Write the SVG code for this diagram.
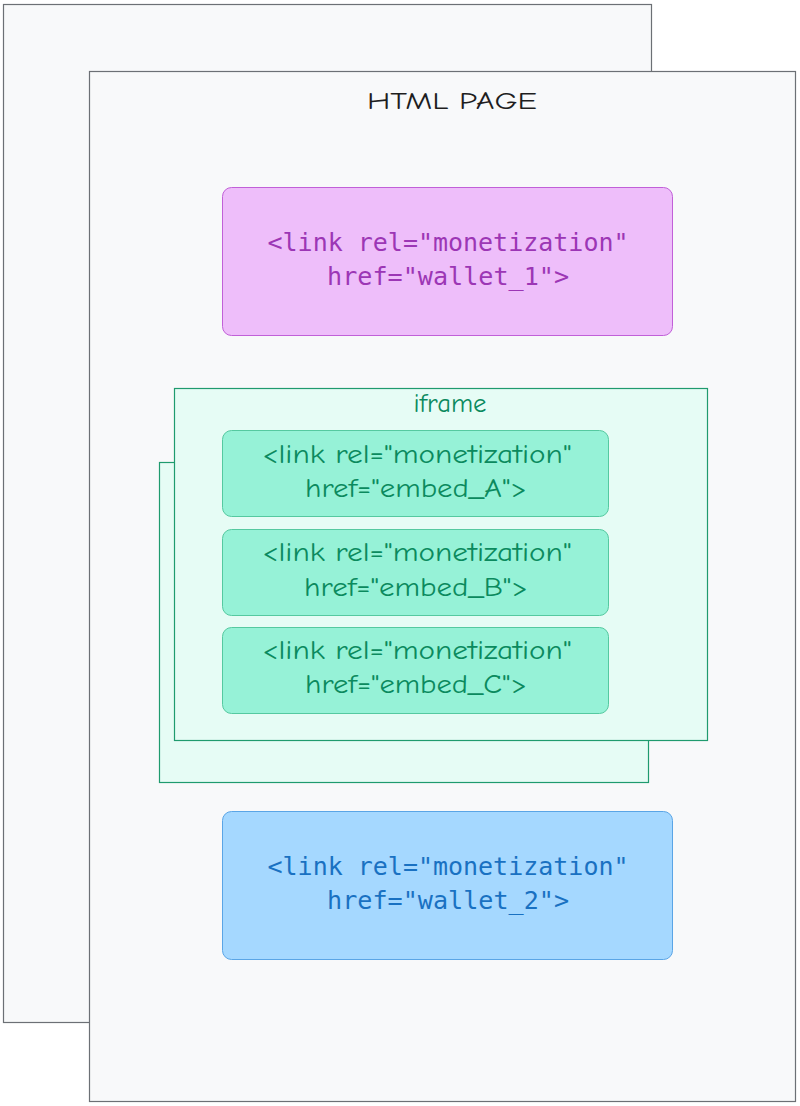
<svg xmlns="http://www.w3.org/2000/svg" width="800" height="1106" viewBox="0 0 800 1106">
<style>
.page{fill:#f8f9fa;stroke:#6c7075;stroke-width:1.2}
.ifr{fill:#e6fcf5;stroke:#1f9b6e;stroke-width:1.2}
.emb{fill:#96f2d7;stroke:#55c9a0;stroke-width:1}
.hand{font-family:"Comic Neue","Lato","Noto Sans",sans-serif;text-anchor:middle}
.mono{font-family:"DejaVu Sans Mono","Liberation Mono",monospace;font-size:24px;text-anchor:middle}
.gt{fill:#0b8a5e;font-size:26px}
</style>
<rect width="800" height="1106" fill="#ffffff"/>
<g id="page-back"><rect class="page" x="3.5" y="4.5" width="648" height="1018"/></g>
<g id="page-front">
<rect class="page" x="89.5" y="71.5" width="706" height="1030"/>
<text class="hand" x="452" y="109" font-size="25" fill="#1e1e1e" textLength="170" lengthAdjust="spacingAndGlyphs">HTML PAGE</text>
</g>
<g id="wallet1">
<rect x="222.5" y="187.5" width="450" height="148" rx="9" fill="#eebefa" stroke="#c160d8" stroke-width="1"/>
<text class="mono" x="448" y="251" fill="#9c36b5" textLength="361" lengthAdjust="spacingAndGlyphs">&lt;link rel="monetization"</text>
<text class="mono" x="448" y="285" fill="#9c36b5" textLength="242" lengthAdjust="spacingAndGlyphs">href="wallet_1"&gt;</text>
</g>
<g id="iframe-back"><rect class="ifr" x="159.5" y="462.5" width="489" height="320"/></g>
<g id="iframe-front">
<rect class="ifr" x="174.5" y="388.5" width="533" height="352"/>
<text class="hand gt" x="450" y="412" font-size="24" textLength="73" lengthAdjust="spacingAndGlyphs">iframe</text>
</g>
<g id="embedA">
<rect class="emb" x="222.5" y="430.5" width="386" height="86" rx="9"/>
<text class="hand gt" x="417" y="463" textLength="309" lengthAdjust="spacingAndGlyphs">&lt;link rel="monetization"</text>
<text class="hand gt" x="416" y="497" textLength="222" lengthAdjust="spacingAndGlyphs">href="embed_A"&gt;</text>
</g>
<g id="embedB">
<rect class="emb" x="222.5" y="529.5" width="386" height="86" rx="9"/>
<text class="hand gt" x="417" y="561" textLength="309" lengthAdjust="spacingAndGlyphs">&lt;link rel="monetization"</text>
<text class="hand gt" x="416" y="596" textLength="224" lengthAdjust="spacingAndGlyphs">href="embed_B"&gt;</text>
</g>
<g id="embedC">
<rect class="emb" x="222.5" y="627.5" width="386" height="86" rx="9"/>
<text class="hand gt" x="417" y="659" textLength="309" lengthAdjust="spacingAndGlyphs">&lt;link rel="monetization"</text>
<text class="hand gt" x="416" y="693" textLength="222" lengthAdjust="spacingAndGlyphs">href="embed_C"&gt;</text>
</g>
<g id="wallet2">
<rect x="222.5" y="811.5" width="450" height="148" rx="9" fill="#a5d8ff" stroke="#5aa5e6" stroke-width="1"/>
<text class="mono" x="448" y="875" fill="#1971c2" textLength="361" lengthAdjust="spacingAndGlyphs">&lt;link rel="monetization"</text>
<text class="mono" x="448" y="909" fill="#1971c2" textLength="242" lengthAdjust="spacingAndGlyphs">href="wallet_2"&gt;</text>
</g>
<g id="connectors"/>
</svg>
